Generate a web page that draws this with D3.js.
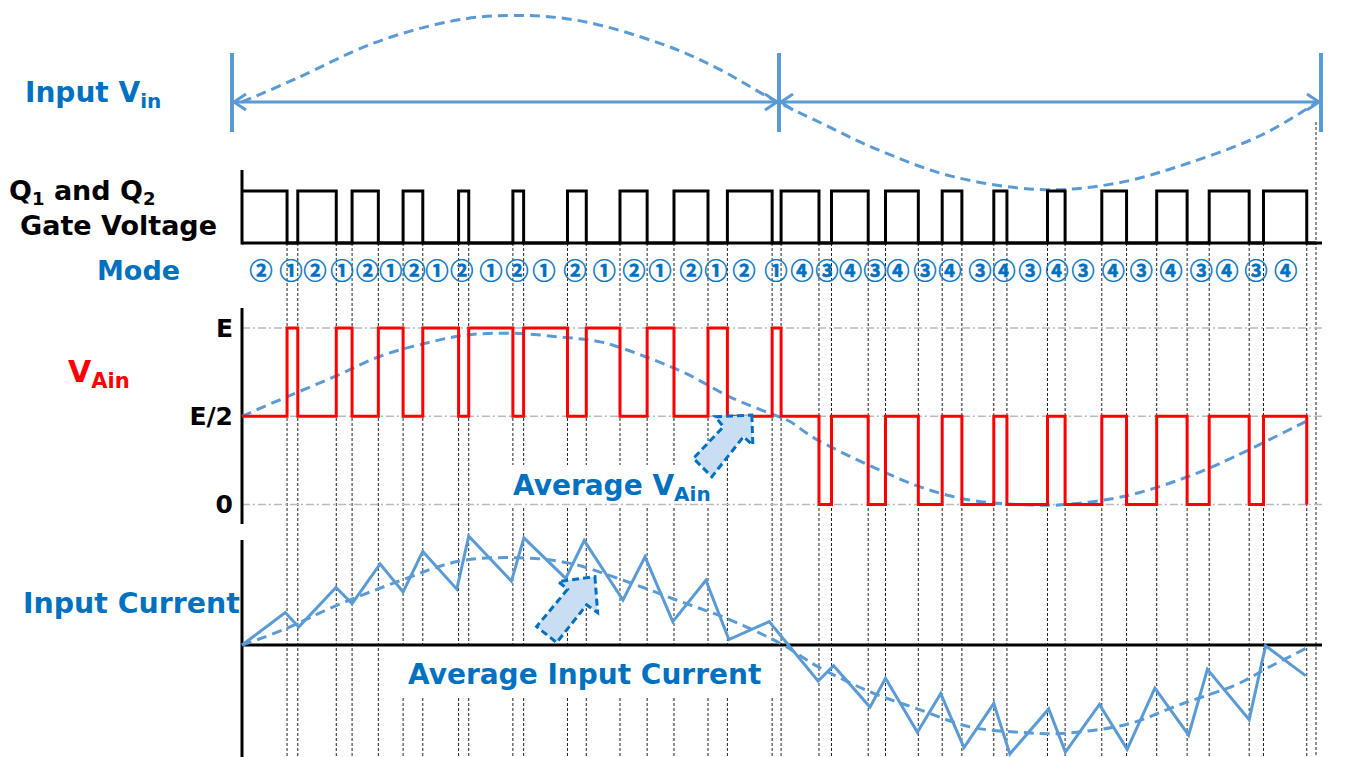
<!DOCTYPE html>
<html><head><meta charset="utf-8">
<script src="https://cdn.jsdelivr.net/npm/d3@7"></script>
<style>
body{margin:0;background:#fff;}
svg{display:block;}
text{font-family:"DejaVu Sans",Verdana,sans-serif;font-weight:bold;}
</style></head><body>
<svg id="c" width="1357" height="757"></svg>
<script>
// ---------------- DATA (time in electrical degrees of one input cycle) ----------------
const switchTimes = [15.1, 18.7, 31.6, 36.9, 45.7, 54.0, 60.6, 72.6, 76.0, 90.8,
  94.4, 109.1, 115.4, 126.7, 135.8, 144.8, 156.2, 162.7, 177.7, 180.7,
  193.4, 197.6, 209.9, 215.7, 226.7, 234.7, 241.3, 252.0, 256.4, 270.0,
  275.9, 288.2, 296.5, 306.6, 316.8, 324.2, 337.6, 342.4, 356.9];
const gateLevels = [1,0,1,0,1,0,1,0,1,0,1,0,1,0,1,0,1,0,1,0,
  1,0,1,0,1,0,1,0,1,0,1,0,1,0,1,0,1,0,1,0];
const vainLevels = [0.5,1,0.5,1,0.5,1,0.5,1,0.5,1,0.5,1,0.5,1,0.5,1,0.5,1,0.5,1,
  0.5,0,0.5,0,0.5,0,0.5,0,0.5,0,0.5,0,0.5,0,0.5,0,0.5,0,0.5,0];
const modeLabels = ["②","①","②","①","②","①","②","①","②","①","②","①","②","①","②","①","②","①","②","①",
  "④","③","④","③","④","③","④","③","④","③","④","③","④","③","④","③","④","③","④"];
const modeTimes = [6.4, 16.4, 24.5, 33.5, 42.1, 49.9, 57.65, 65.4, 73.7, 83.5,
  92.2, 101.2, 111.6, 121.4, 131.4, 140.1, 150.5, 158.9, 168.3, 179.0,
  187.7, 196.1, 204.0, 212.2, 219.9, 228.9, 237.3, 247.4, 255.4, 264.1,
  273.2, 281.9, 292.0, 301.4, 311.4, 321.5, 330.2, 339.9, 349.9];
const currentTimes = [0, 14.5, 19.0, 31.5, 36.9, 46.3, 54.0, 60.6, 72.0, 76.0,
  90.3, 94.5, 108.5, 114.7, 127.7, 135.1, 144.4, 155.5, 163.2, 176.7,
  193.1, 198.3, 210.5, 215.7, 226.4, 234.2, 242.0, 252.0, 257.4, 270.4,
  276.0, 287.4, 296.7, 306.0, 317.3, 323.6, 337.6, 343.1, 356.5];
const currentValues = [0, 0.36, 0.20, 0.64, 0.46, 0.90, 0.59, 1.04, 0.62, 1.21,
  0.71, 1.19, 0.74, 1.16, 0.50, 0.98, 0.26, 0.72, 0.06, 0.26,
  -0.40, -0.23, -0.69, -0.37, -0.97, -0.54, -1.14, -0.65, -1.21, -0.71,
  -1.19, -0.66, -1.16, -0.48, -1.00, -0.27, -0.83, -0.01, -0.34];
const avgCurrentTimes = [0, 13.9, 31.8, 53.4, 72.6, 91.7, 109.6, 127.7, 145.6, 163.6, 180.3,
  193.0, 210.5, 227.3, 244.0, 260.8, 276.2, 296.7, 314.6, 332.6, 344.0, 356.5];
const avgCurrentValues = [0, 0.17, 0.44, 0.72, 0.93, 0.97, 0.91, 0.72, 0.50, 0.28, 0.02,
  -0.24, -0.52, -0.72, -0.91, -0.97, -0.98, -0.88, -0.66, -0.45, -0.25, -0.04];
const avgVainTimes = [0, 15.0, 31.8, 46.3, 60.7, 75.0, 90.5, 106.1, 120.5, 134.8, 149.1, 163.5, 177.9, 183.7,
  193.0, 210.5, 227.3, 244.0, 260.8, 276.2, 296.7, 315.8, 332.6, 356.5];
const avgVainValues = [0.50, 0.61, 0.73, 0.84, 0.91, 0.96, 0.97, 0.95, 0.92, 0.84, 0.74, 0.61, 0.51, 0.47,
  0.365, 0.22, 0.10, 0.025, 0.0, 0.0, 0.05, 0.15, 0.27, 0.47];
const vinTimes = [0, 18.3, 43.9, 69.6, 91.4, 114.5, 140.1, 159.4, 177.3, 195.3, 213.5, 238.0, 267.2, 292.8, 317.1, 341.6, 360];
const vinValues = [0, 0.27, 0.67, 0.92, 0.99, 0.92, 0.67, 0.385, 0.04, -0.26, -0.55, -0.85, -1.0, -0.93, -0.70, -0.38, -0.01];
const periodMarks = [0, 180, 360];
const vainTickValues = [0, 0.5, 1];
const vainTickLabels = ["0", "E/2", "E"];

// ---------------- SCALES ----------------
const svg = d3.select("#c");
const BLUE = "#5B9BD5", DARK = "#0070C0", RED = "#FF0000";
const x = d3.scaleLinear().domain([0, 360]).range([242, 1316]);
const xTop = d3.scaleLinear().domain(periodMarks).range([232, 779, 1321]);
const yVin = d3.scaleLinear().domain([-1, 1]).range([189.5, 14.5]);
const yGate = d3.scaleLinear().domain([0, 1]).range([243, 191]);
const yVain = d3.scaleLinear().domain([0, 1]).range([504.5, 328]);
const yCur = d3.scaleLinear().domain([-1, 1]).range([735, 555]);
const xEnd = x(360) + 6;

// ---------------- vertical switching guides ----------------
svg.append("g").selectAll("line").data(switchTimes).join("line")
  .attr("x1", d => x(d)).attr("x2", d => x(d))
  .attr("y1", yGate(0)).attr("y2", 757)
  .attr("stroke", "#222").attr("stroke-width", 1).attr("stroke-dasharray", "3,2");
svg.append("line").attr("x1", x(360)).attr("x2", x(360)).attr("y1", 122).attr("y2", 757)
  .attr("stroke", "#222").attr("stroke-width", 1).attr("stroke-dasharray", "3,2");

// white backgrounds for labels (added later via bbox)
const bgLayer = svg.append("g");

// ---------------- Input Vin ----------------
const topG = svg.append("g");
const yArr = yVin(0);
topG.selectAll("line.bar").data(periodMarks).join("line").attr("class", "bar")
  .attr("x1", d => xTop(d)).attr("x2", d => xTop(d)).attr("y1", 53).attr("y2", 132)
  .attr("stroke", BLUE).attr("stroke-width", 4);
[[0, 180], [180, 360]].forEach(([a, b]) => {
  const x1 = xTop(a) + 2, x2 = xTop(b) - 2;
  topG.append("path").attr("d", `M${x1},${yArr}L${x2},${yArr}`).attr("stroke", BLUE).attr("stroke-width", 3).attr("fill", "none");
  topG.append("path").attr("d", `M${x1 + 12},${yArr - 8}L${x1},${yArr}L${x1 + 12},${yArr + 8}`)
    .attr("stroke", BLUE).attr("stroke-width", 3).attr("fill", "none");
  topG.append("path").attr("d", `M${x2 - 12},${yArr - 8}L${x2},${yArr}L${x2 - 12},${yArr + 8}`)
    .attr("stroke", BLUE).attr("stroke-width", 3).attr("fill", "none");
});
const vinLine = d3.line().x((d, i) => x(vinTimes[i])).y(d => yVin(d)).curve(d3.curveCardinal);
topG.append("path").attr("d", vinLine(vinValues)).attr("fill", "none")
  .attr("stroke", BLUE).attr("stroke-width", 3).attr("stroke-dasharray", "10,6");

// ---------------- Gate voltage ----------------
const gateTimes = [0].concat(switchTimes);
const gatePts = gateTimes.map((t, i) => [t, gateLevels[i]]).concat([[360, 0]]);
svg.append("line").attr("x1", x(0)).attr("x2", xEnd).attr("y1", yGate(0)).attr("y2", yGate(0))
  .attr("stroke", "#000").attr("stroke-width", 3);
svg.append("line").attr("x1", x(0)).attr("x2", x(0)).attr("y1", 170).attr("y2", yGate(0) + 1.5)
  .attr("stroke", "#000").attr("stroke-width", 3);
svg.append("path").attr("d", d3.line().x(d => x(d[0])).y(d => yGate(d[1])).curve(d3.curveStepAfter)(gatePts))
  .attr("fill", "none").attr("stroke", "#000").attr("stroke-width", 3);

// ---------------- Mode labels ----------------
svg.append("g").selectAll("text").data(modeLabels).join("text")
  .attr("x", (d, i) => x(modeTimes[i])).attr("y", 269)
  .attr("text-anchor", "middle").attr("dominant-baseline", "central")
  .style("font-family", "'Noto Sans CJK JP'").style("font-size", "23px").style("font-weight", "bold")
  .attr("fill", DARK).attr("stroke", DARK).attr("stroke-width", 0.5).text(d => d);

// ---------------- VAin ----------------
const gv = svg.append("g");
gv.selectAll("line").data(vainTickValues).join("line")
  .attr("x1", x(0)).attr("x2", xEnd).attr("y1", d => yVain(d)).attr("y2", d => yVain(d))
  .attr("stroke", "#bbb").attr("stroke-width", 1.3).attr("stroke-dasharray", "8,3,2,3");
const axV = d3.axisLeft(yVain).tickValues(vainTickValues).tickSize(0).tickPadding(9)
  .tickFormat((d, i) => vainTickLabels[i]);
const axG = svg.append("g").attr("transform", `translate(${x(0)},0)`).call(axV);
axG.select(".domain").remove();
axG.selectAll("text").style("font-size", "25px").style("font-family", "'DejaVu Sans'").style("font-weight", "bold").attr("fill", "#000");
svg.append("line").attr("x1", x(0)).attr("x2", x(0)).attr("y1", 308).attr("y2", 524)
  .attr("stroke", "#000").attr("stroke-width", 3);
const avgVLine = d3.line().x((d, i) => x(avgVainTimes[i])).y(d => yVain(d)).curve(d3.curveCardinal);
svg.append("path").attr("d", avgVLine(avgVainValues)).attr("fill", "none")
  .attr("stroke", BLUE).attr("stroke-width", 3).attr("stroke-dasharray", "10,6");
const vainTimes = [0].concat(switchTimes);
const vainPts = vainTimes.map((t, i) => [t, vainLevels[i]]);
svg.append("path").attr("d", d3.line().x(d => x(d[0])).y(d => yVain(d[1])).curve(d3.curveStepAfter)(vainPts))
  .attr("fill", "none").attr("stroke", RED).attr("stroke-width", 3);

// ---------------- Input current ----------------
svg.append("line").attr("x1", x(0)).attr("x2", x(0)).attr("y1", 540).attr("y2", 757)
  .attr("stroke", "#000").attr("stroke-width", 3);
svg.append("line").attr("x1", x(0)).attr("x2", xEnd).attr("y1", yCur(0)).attr("y2", yCur(0))
  .attr("stroke", "#000").attr("stroke-width", 3);
const avgILine = d3.line().x((d, i) => x(avgCurrentTimes[i])).y(d => yCur(d)).curve(d3.curveCardinal);
svg.append("path").attr("d", avgILine(avgCurrentValues)).attr("fill", "none")
  .attr("stroke", BLUE).attr("stroke-width", 3).attr("stroke-dasharray", "10,6");
const curLine = d3.line().x((d, i) => x(currentTimes[i])).y(d => yCur(d));
svg.append("path").attr("d", curLine(currentValues)).attr("fill", "none")
  .attr("stroke", BLUE).attr("stroke-width", 3).attr("stroke-linejoin", "miter");

// ---------------- block arrows ----------------
function blockArrow(tx, ty, pts) {
  svg.append("path")
    .attr("d", "M" + pts.map(p => [tx + p[0], ty + p[1]].join(",")).join("L") + "Z")
    .attr("fill", "#C9DEF2").attr("stroke", DARK).attr("stroke-width", 3)
    .attr("stroke-dasharray", "7,4").attr("stroke-linejoin", "miter");
}
blockArrow(x(170.9), yVain(0.507), [[0, 0], [1, 30], [-8.4, 21.7], [-40, 61.7], [-58.4, 43.3], [-28.4, 11.7], [-36.7, 1.7]]);
blockArrow(x(118.3), yCur(0.76), [[0, 0], [2.7, 36], [-8.3, 28.3], [-38.3, 66], [-58.3, 50], [-27.3, 12.6], [-36.7, 5]]);

// ---------------- Labels ----------------
function label(xp, yp, parts, fill, withBg, pad) {
  const t = svg.append("text").attr("x", xp).attr("y", yp).attr("fill", fill);
  parts.forEach(p => {
    const s = t.append("tspan").text(p[0]).style("font-size", p[1] + "px");
    if (p[2]) s.attr("dy", p[2]);
  });
  if (withBg) {
    const b = t.node().getBBox();
    bgLayer.append("rect").attr("x", b.x - pad[3]).attr("y", b.y - pad[0])
      .attr("width", b.width + pad[1] + pad[3]).attr("height", b.height + pad[0] + pad[2]).attr("fill", "#fff");
  }
  return t;
}
label(25, 102, [["Input V", 28], ["in", 20, 6]], DARK);
label(9, 200, [["Q", 27], ["1", 18, 5], [" and Q", 27, -5], ["2", 18, 5]], "#000");
label(20, 235, [["Gate Voltage", 27]], "#000");
label(97, 280, [["Mode", 27]], DARK);
label(68, 382, [["V", 30], ["Ain", 21, 6]], RED);
label(23, 613, [["Input Current", 28.4]], DARK, true, [10, 7, 5, 3]);
label(513, 495, [["Average V", 28], ["Ain", 20, 6]], DARK, true, [4, 6, 2, 6]);
label(408, 684, [["Average Input Current", 28]], DARK, true, [11, 16, 7, 8]);
</script>
</body></html>
